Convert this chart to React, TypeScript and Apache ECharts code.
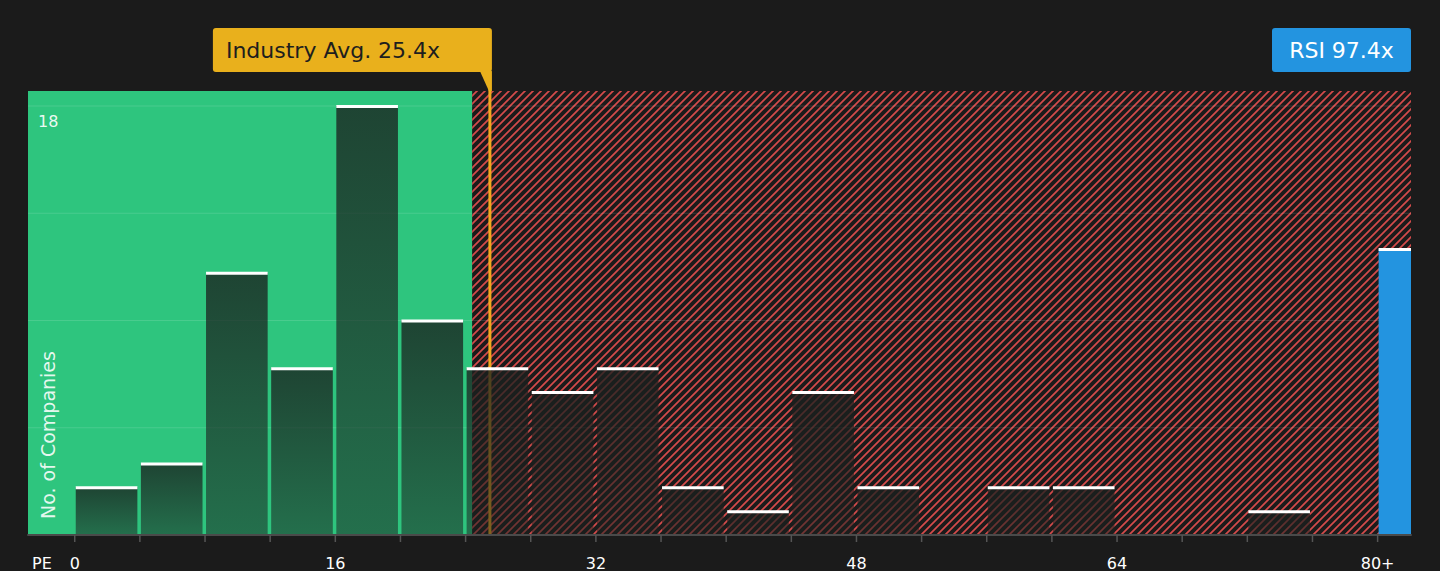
import React, { useEffect, useRef } from "react";
import * as echarts from "echarts";

// ---- data ----
const binStarts = [0, 4, 8, 12, 16, 20, 24, 28, 32, 36, 40, 44, 48, 52, 56, 60, 64, 68, 72, 76];
const binCounts = [2, 3, 11, 7, 18, 9, 7, 6, 7, 2, 1, 6, 2, 0, 2, 2, 0, 0, 1, 0];
const binWidth = 4;
const companyBinStart = 80;
const companyCount = 12;
const companyPE = 97.4;
const companyName = "RSI";
const industryAvg = 25.4;
const fairZoneEnd = 24.4;
const xTickValues = [0, 4, 8, 12, 16, 20, 24, 28, 32, 36, 40, 44, 48, 52, 56, 60, 64, 68, 72, 76, 80];
const xLabelValues = [0, 16, 32, 48, 64, 80];
const xLabelTexts = ["0", "16", "32", "48", "64", "80+"];
const yGridValues = [4.5, 9, 13.5, 18];
const yLabelValues = [18];
const xMin = -2.87;
const xMax = 82.05;
const yMax = 18.63;

const FONT = "DejaVu Sans";
const BG = "#1b1b1b";
const GREEN = "#2ec57e";
const GOLD = "#e9b01c";
const LINE_GOLD = "#f2a81e";
const BLUE = "#2394e0";
const HATCH = 8;

function makeHatch(): HTMLCanvasElement {
  const s = HATCH;
  const c = document.createElement("canvas");
  c.width = s;
  c.height = s;
  const ctx = c.getContext("2d")!;
  ctx.strokeStyle = "#d44b4b";
  ctx.lineWidth = 1.7;
  ctx.beginPath();
  ctx.moveTo(-1, s + 1);
  ctx.lineTo(s + 1, -1);
  ctx.moveTo(-2, 2);
  ctx.lineTo(2, -2);
  ctx.moveTo(s - 2, s + 2);
  ctx.lineTo(s + 2, s - 2);
  ctx.stroke();
  return c;
}

export default function App() {
  const ref = useRef<HTMLDivElement>(null);

  useEffect(() => {
    document.body.style.margin = "0";
    document.body.style.background = BG;
    const chart = echarts.init(ref.current!, null, { renderer: "svg" });
    const hatch = makeHatch();
    const hatchFill: any = { image: hatch, repeat: "repeat", imageWidth: HATCH, imageHeight: HATCH };

    const zoneData = [
      [xMin, fairZoneEnd, 0],
      [fairZoneEnd, xMax, 1],
    ];
    const barData = binStarts.map((s, i) => [s, s + binWidth, binCounts[i]]);
    const companyData = [[companyBinStart, companyBinStart + binWidth, companyCount]];

    const option: any = {
      animation: false,
      backgroundColor: BG,
      grid: { left: 28, right: 29, top: 91, bottom: 36, containLabel: false },
      xAxis: {
        type: "value",
        min: xMin,
        max: xMax,
        z: 10,
        axisLine: { show: true, lineStyle: { color: "#4a4a4a", width: 2 } },
        axisTick: { show: false },
        axisLabel: { show: false },
        splitLine: { show: false },
      },
      yAxis: {
        type: "value",
        min: 0,
        max: yMax,
        axisLine: { show: false },
        axisTick: { show: false },
        axisLabel: { show: false },
        splitLine: { show: false },
      },
      graphic: [
        {
          type: "text",
          x: 48,
          y: 519,
          rotation: Math.PI / 2,
          z: 100,
          style: {
            text: "No. of Companies",
            fill: "rgba(255,255,255,0.88)",
            font: `19px '${FONT}'`,
            align: "left",
            verticalAlign: "middle",
          },
        },
        {
          type: "group",
          right: 29,
          top: 28,
          z: 100,
          children: [
            { type: "rect", shape: { x: 0, y: 0, width: 139, height: 44, r: 3 }, style: { fill: BLUE } },
            {
              type: "text",
              x: 69.5,
              y: 22,
              style: {
                text: `${companyName} ${companyPE}x`,
                fill: "#ffffff",
                font: `22px '${FONT}'`,
                align: "center",
                verticalAlign: "middle",
              },
            },
          ],
        },
      ],
      series: [
        {
          type: "custom",
          z: 1,
          data: zoneData,
          encode: { x: [0, 1], y: 2 },
          renderItem: (params: any, api: any) => {
            const p0 = api.coord([api.value(0), yMax]);
            const p1 = api.coord([api.value(1), 0]);
            const isFair = api.value(2) === 0;
            return {
              type: "rect",
              shape: { x: p0[0], y: p0[1], width: p1[0] - p0[0], height: p1[1] - p0[1] },
              style: { fill: isFair ? GREEN : hatchFill },
            };
          },
        },
        {
          type: "custom",
          z: 2,
          data: yGridValues.map((v) => [xMin, v]),
          encode: { x: 0, y: 1 },
          renderItem: (params: any, api: any) => {
            const cs = params.coordSys;
            const y = api.coord([xMin, api.value(1)])[1];
            const children: any[] = [
              {
                type: "line",
                shape: { x1: cs.x, y1: y, x2: cs.x + cs.width, y2: y },
                style: { stroke: "rgba(255,255,255,0.13)", lineWidth: 1 },
              },
            ];
            if (yLabelValues.indexOf(api.value(1)) >= 0) {
              children.push({
                type: "text",
                x: cs.x + 10,
                y: y + 15,
                style: {
                  text: String(api.value(1)),
                  fill: "rgba(255,255,255,0.92)",
                  font: `16px '${FONT}'`,
                  align: "left",
                  verticalAlign: "middle",
                },
              });
            }
            return { type: "group", children };
          },
        },
        {
          type: "custom",
          z: 3,
          data: [[industryAvg, 0]],
          encode: { x: 0, y: 1 },
          renderItem: (params: any, api: any) => {
            const cs = params.coordSys;
            const p = api.coord([api.value(0), 0]);
            const x = p[0] + 1.5;
            const boxBottom = cs.y - 19;
            const boxTop = cs.y - 63;
            const boxW = 279;
            return {
              type: "group",
              children: [
                {
                  type: "line",
                  shape: { x1: x, y1: boxBottom, x2: x, y2: p[1] },
                  style: { stroke: LINE_GOLD, lineWidth: 3 },
                },
                {
                  type: "polygon",
                  shape: {
                    points: [
                      [x - 10, boxBottom - 1],
                      [x + 2, boxBottom - 1],
                      [x + 2, cs.y],
                      [x - 1, cs.y],
                    ],
                  },
                  style: { fill: GOLD },
                },
                {
                  type: "rect",
                  shape: { x: x + 2 - boxW, y: boxTop, width: boxW, height: 44, r: 3 },
                  style: { fill: GOLD },
                },
                {
                  type: "text",
                  x: x + 2 - boxW + 13,
                  y: boxTop + 22,
                  style: {
                    text: `Industry Avg. ${industryAvg}x`,
                    fill: "#1e1e1e",
                    font: `22px '${FONT}'`,
                    align: "left",
                    verticalAlign: "middle",
                  },
                },
              ],
            };
          },
        },
        {
          type: "custom",
          z: 4,
          data: barData,
          encode: { x: [0, 1], y: 2 },
          renderItem: (params: any, api: any) => {
            const v = api.value(2);
            if (!v) return null;
            const pTop = api.coord([api.value(0), v]);
            const pBot = api.coord([api.value(1), 0]);
            const left = pTop[0] + 1;
            const right = pBot[0] - 2.5;
            return {
              type: "group",
              children: [
                {
                  type: "rect",
                  shape: { x: left, y: pTop[1], width: right - left, height: pBot[1] - pTop[1] },
                  style: {
                    fill: new echarts.graphic.LinearGradient(0, 0, 0, 1, [
                      { offset: 0, color: "rgba(26,32,30,0.78)" },
                      { offset: 1, color: "rgba(26,32,30,0.52)" },
                    ]),
                  },
                },
                {
                  type: "rect",
                  shape: { x: left, y: pTop[1] - 1, width: right - left, height: 3 },
                  style: { fill: "#ffffff" },
                },
              ],
            };
          },
        },
        {
          type: "custom",
          z: 4,
          data: companyData,
          encode: { x: [0, 1], y: 2 },
          renderItem: (params: any, api: any) => {
            const cs = params.coordSys;
            const v = api.value(2);
            const pTop = api.coord([api.value(0), v]);
            const pBot = api.coord([api.value(1), 0]);
            const left = pTop[0] + 1;
            const right = Math.min(pBot[0] - 2.5, cs.x + cs.width);
            return {
              type: "group",
              children: [
                {
                  type: "rect",
                  shape: { x: left, y: pTop[1], width: right - left, height: pBot[1] - pTop[1] },
                  style: { fill: BLUE },
                },
                {
                  type: "rect",
                  shape: { x: left, y: pTop[1] - 1, width: right - left, height: 3 },
                  style: { fill: "#ffffff" },
                },
              ],
            };
          },
        },
        {
          type: "custom",
          z: 11,
          data: xTickValues.map((v) => [v, 0]),
          encode: { x: 0, y: 1 },
          renderItem: (params: any, api: any) => {
            const cs = params.coordSys;
            const val = api.value(0);
            const p = api.coord([val, 0]);
            const children: any[] = [
              {
                type: "line",
                shape: { x1: p[0], y1: p[1], x2: p[0], y2: p[1] + 7 },
                style: { stroke: "#555555", lineWidth: 1.5 },
              },
            ];
            const li = xLabelValues.indexOf(val);
            if (li >= 0) {
              children.push({
                type: "text",
                x: p[0],
                y: p[1] + 28,
                style: {
                  text: xLabelTexts[li],
                  fill: "#ffffff",
                  font: `16px '${FONT}'`,
                  align: "center",
                  verticalAlign: "middle",
                },
              });
            }
            if (params.dataIndex === 0) {
              children.push({
                type: "text",
                x: cs.x + 4,
                y: p[1] + 28,
                style: {
                  text: "PE",
                  fill: "#ffffff",
                  font: `16px '${FONT}'`,
                  align: "left",
                  verticalAlign: "middle",
                },
              });
            }
            return { type: "group", children };
          },
        },
      ],
    };

    chart.setOption(option);
    return () => chart.dispose();
  }, []);

  return <div ref={ref} style={{ width: 1440, height: 571 }} />;
}
